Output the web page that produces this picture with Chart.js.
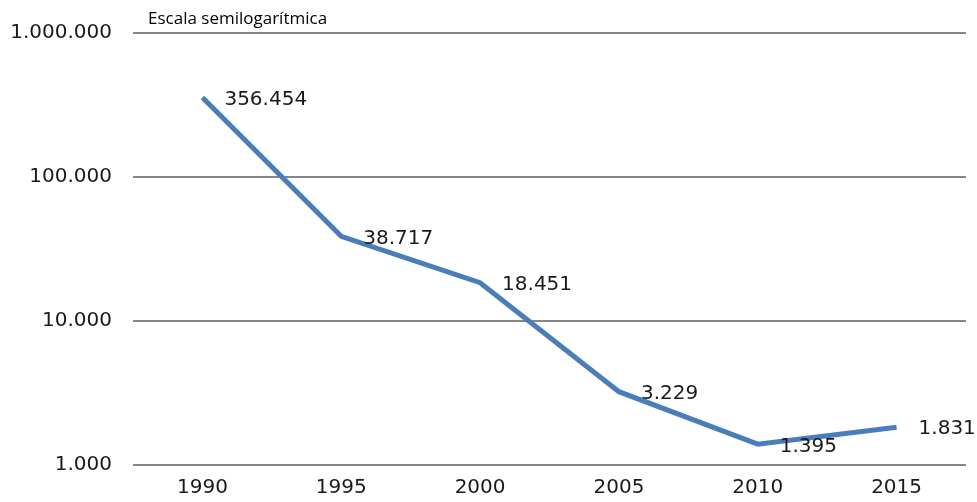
<!DOCTYPE html>
<html>
<head>
<meta charset="utf-8">
<script src="https://cdn.jsdelivr.net/npm/chart.js@4"></script>
<style>
  html, body { margin: 0; padding: 0; background: #fff; }
  #wrap { width: 977px; height: 502px; position: relative; }
</style>
</head>
<body>
<div id="wrap"><canvas id="chart"></canvas></div>
<script>
const years = ['1990', '1995', '2000', '2005', '2010', '2015'];
const values = [356454, 38717, 18451, 3229, 1395, 1831];
const yTicks = [1000, 10000, 100000, 1000000];
const note = 'Escala semilogarítmica';

const fmt = v => String(v).replace(/\B(?=(\d{3})+(?!\d))/g, '.');

// point labels to the right of each vertex
const pointLabels = {
  id: 'pointLabels',
  afterDatasetsDraw(chart) {
    const ctx = chart.ctx;
    const meta = chart.getDatasetMeta(0);
    ctx.save();
    ctx.font = '20px "DejaVu Sans"';
    ctx.fillStyle = '#1a1a1a';
    ctx.textAlign = 'left';
    ctx.textBaseline = 'middle';
    meta.data.forEach((pt, i) => {
      const dy = i === 4 ? 3 : 2;
      ctx.fillText(fmt(values[i]), pt.x + 22, pt.y + dy);
    });
    // scale note above the top gridline
    ctx.font = '17px "Open Sans"';
    ctx.fillStyle = '#000';
    ctx.textBaseline = 'alphabetic';
    ctx.fillText(note, chart.chartArea.left + 15, 24);
    ctx.restore();
  }
};

new Chart(document.getElementById('chart'), {
  type: 'line',
  data: {
    labels: years,
    datasets: [{
      data: values,
      borderColor: '#4a7ebb',
      borderWidth: 5,
      pointRadius: 0,
      tension: 0,
      fill: false
    }]
  },
  options: {
    responsive: true,
    maintainAspectRatio: false,
    animation: false,
    layout: { padding: { top: 31, right: 11, left: 0, bottom: 0 } },
    plugins: { legend: { display: false }, tooltip: { enabled: false } },
    scales: {
      x: {
        offset: true,
        grid: { display: false, drawTicks: false },
        border: { display: false },
        ticks: { color: '#1a1a1a', font: { family: 'DejaVu Sans', size: 20 }, padding: 11, maxRotation: 0 },
        afterFit: s => { s.height = 37; }
      },
      y: {
        type: 'logarithmic',
        min: 1000,
        max: 1000000,
        afterBuildTicks: s => { s.ticks = yTicks.map(v => ({ value: v })); },
        grid: { color: '#868686', lineWidth: 2, drawTicks: false },
        border: { display: false },
        ticks: {
          color: '#1a1a1a',
          font: { family: 'DejaVu Sans', size: 20 },
          padding: 21,
          callback: v => fmt(v)
        },
        afterFit: s => { s.width = 133; }
      }
    }
  },
  plugins: [pointLabels]
});
</script>
</body>
</html>
